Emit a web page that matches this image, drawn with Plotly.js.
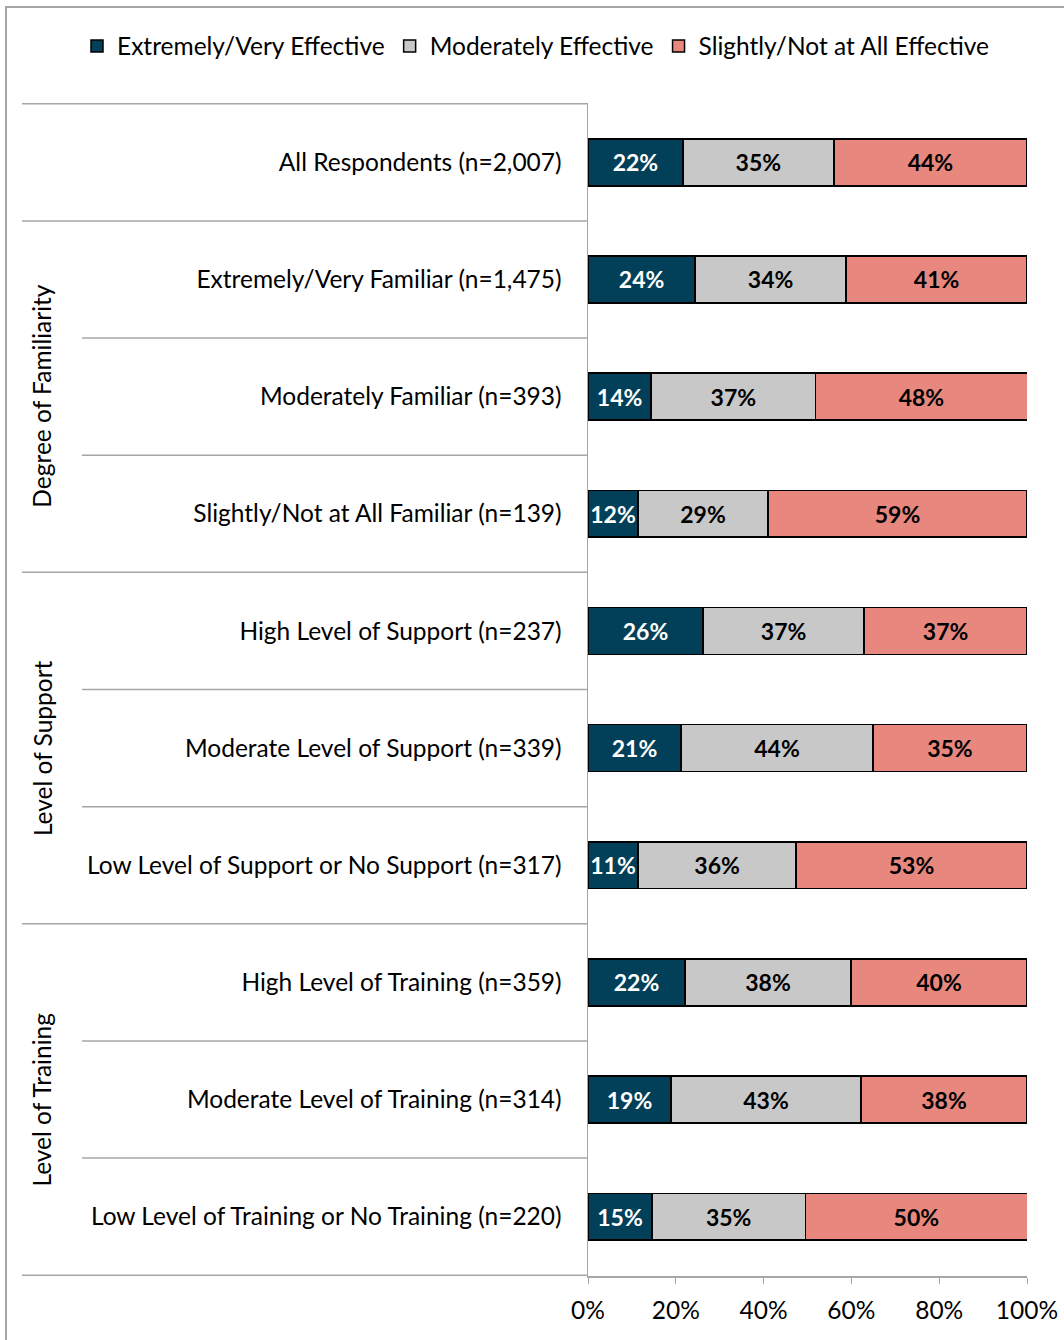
<!DOCTYPE html>
<html><head><meta charset="utf-8">
<script src="https://cdn.plot.ly/plotly-3.0.1.min.js"></script>
<style>
html,body{margin:0;padding:0;background:#fff;}
#chart{position:absolute;left:0;top:0;width:1064px;height:1340px;}
#frame{position:absolute;left:5px;top:6px;width:1100px;height:1400px;border-left:2px solid #a6a6a6;border-top:2px solid #a6a6a6;pointer-events:none;}
</style></head>
<body>
<div id="chart"></div>
<div id="frame"></div>
<script>
var categories = [
  "All Respondents (n=2,007)",
  "Extremely/Very Familiar (n=1,475)",
  "Moderately Familiar (n=393)",
  "Slightly/Not at All Familiar (n=139)",
  "High Level of Support (n=237)",
  "Moderate Level of Support (n=339)",
  "Low Level of Support or No Support (n=317)",
  "High Level of Training (n=359)",
  "Moderate Level of Training (n=314)",
  "Low Level of Training or No Training (n=220)"
];
var seriesNames = ["Extremely/Very Effective", "Moderately Effective", "Slightly/Not at All Effective"];
var extremelyVery = [21.6, 24.4, 14.4, 11.4, 26.2, 21.2, 11.4, 22.1, 18.9, 14.6];
var moderately    = [34.4, 34.4, 37.4, 29.6, 36.7, 43.7, 36.0, 37.8, 43.3, 34.9];
var slightlyNot   = [44.0, 41.2, 48.3, 59.0, 37.1, 35.1, 52.6, 40.1, 37.8, 50.6];
var extremelyLabels = ["22%","24%","14%","12%","26%","21%","11%","22%","19%","15%"];
var moderatelyLabels = ["35%","34%","37%","29%","37%","44%","36%","38%","43%","35%"];
var slightlyLabels = ["44%","41%","48%","59%","37%","35%","53%","40%","38%","50%"];
var groupNames = ["Degree of Familiarity", "Level of Support", "Level of Training"];
var groupMid = [2, 5, 8];
var xTickVals = [0, 20, 40, 60, 80, 100];
var xTickText = ["0%", "20%", "40%", "60%", "80%", "100%"];

var font = "Lato, 'Open Sans', sans-serif";
var FS = 24.5;
var colors = ["#023F58", "#C8C8C8", "#E8877E"];
var textColors = ["#ffffff", "#000000", "#000000"];
var vals = [extremelyVery, moderately, slightlyNot];
var labs = [extremelyLabels, moderatelyLabels, slightlyLabels];

var data = vals.map(function(v, i){
  return {
    type: "bar", orientation: "h", name: seriesNames[i],
    y: categories, x: v, text: labs[i],
    textposition: "inside", insidetextanchor: "middle",
    textfont: {family: font, size: 23, color: textColors[i], weight: "bold"},
    marker: {color: colors[i], line: {color: "#000", width: 1.5}},
    width: 0.4, hoverinfo: "skip"
  };
});

var L = 588, R = 1027, T = 103, B = 1276, W = 1064, H = 1340;
var pw = R - L;
function px(xp){ return (xp - L) / pw; }

var shapes = [];
var boundaries = [-0.5, 0.5, 1.5, 2.5, 3.5, 4.5, 5.5, 6.5, 7.5, 8.5, 9.5];
var major = {"-0.5":1, "0.5":1, "3.5":1, "6.5":1, "9.5":1};
boundaries.forEach(function(b){
  var x0 = major[String(b)] ? px(22) : px(82);
  shapes.push({type:"line", xref:"paper", yref:"y", x0:x0, x1:0, y0:b, y1:b,
    line:{color:"#a6a6a6", width:1.5}});
});

var annotations = groupNames.map(function(g, i){
  return {text: g, xref:"paper", yref:"y", x: px(42), y: groupMid[i], textangle: -90,
    showarrow:false, font:{family:font, size:FS, color:"#000"}, xanchor:"center", yanchor:"middle"};
});

var layout = {
  width: W, height: H,
  margin: {l: L, r: W - R, t: T, b: H - B, pad: 0},
  paper_bgcolor: "#fff", plot_bgcolor: "#fff",
  barmode: "stack",
  font: {family: font, size: FS, color: "#000"},
  showlegend: true,
  legend: {orientation: "h", x: px(77), xanchor: "left", y: 1 + (T - 46)/(B - T), yanchor: "middle",
    font: {family: font, size: FS, color: "#000"}, traceorder: "normal", itemwidth: 30, tracegroupgap: 0},
  xaxis: {range: [0, 100], tickvals: xTickVals, ticktext: xTickText, showgrid: false, zeroline: false,
    showline: true, linecolor: "#a6a6a6", linewidth: 1.5, ticks: "outside", ticklen: 6, tickcolor: "#a6a6a6",
    ticklabelstandoff: 6,
    tickfont: {family: font, size: FS, color: "#000"}, fixedrange: true},
  yaxis: {type: "category", autorange: "reversed", showgrid: false, zeroline: false,
    showline: true, linecolor: "#a6a6a6", linewidth: 1.5, ticks: "", ticklabelstandoff: 20,
    tickfont: {family: font, size: FS, color: "#000"}, fixedrange: true},
  shapes: shapes,
  annotations: annotations,
  uniformtext: {mode: "show", minsize: 23}
};

Plotly.newPlot("chart", data, layout, {displayModeBar: false, staticPlot: true});
</script>
</body></html>
